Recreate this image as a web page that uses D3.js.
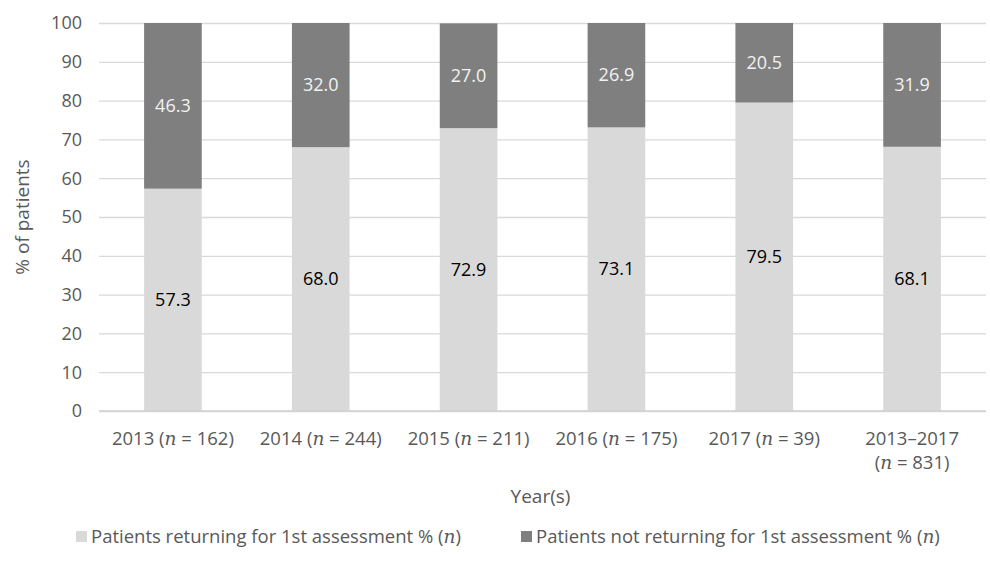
<!DOCTYPE html>
<meta charset="utf-8">
<style>
    body { margin: 0; background: #fff; }
    text { font-family: "Open Sans", "Noto Sans", sans-serif; }
    .grid line { stroke: #d9d9d9; stroke-width: 1.3; }
    .grid .domain { display: none; }
    .nit { font-family: "DejaVu Serif", serif; font-style: italic; }
</style>
<svg width="990" height="574"></svg>
<script src="https://d3js.org/d3.v7.min.js"></script>
<script>

    var years = ["2013", "2014", "2015", "2016", "2017", "2013–2017"];
    var nValues = ["162", "244", "211", "175", "39", "831"];
    var returning = [57.3, 68.0, 72.9, 73.1, 79.5, 68.1];
    var notReturning = [46.3, 32.0, 27.0, 26.9, 20.5, 31.9];
    var yTicks = [0, 10, 20, 30, 40, 50, 60, 70, 80, 90, 100];
    var legendLabels = ["Patients returning for 1st assessment % (", "Patients not returning for 1st assessment % ("];
    var colors = ["#d9d9d9", "#7f7f7f"];

    var svg = d3.select("svg"),
        margin = {top: 23, right: 4, bottom: 163, left: 99},
        width = +svg.attr("width") - margin.left - margin.right,
        height = +svg.attr("height") - margin.top - margin.bottom,
        g = svg.append("g").attr("transform", "translate(" + margin.left + "," + margin.top + ")");

    var x = d3.scaleBand()
        .domain(years)
        .range([0, width])
        .paddingInner(0.61)
        .paddingOuter(0.305);

    var y = d3.scaleLinear()
        .domain([0, 100])
        .range([height, 0]);

    // gridlines
    g.append("g")
        .attr("class", "grid")
        .call(d3.axisLeft(y).tickValues(yTicks).tickSize(-width).tickFormat(""));

    // tick labels
    g.append("g")
        .selectAll("text")
        .data(yTicks)
        .enter().append("text")
        .attr("x", -17)
        .attr("y", function (d) { return y(d); })
        .attr("dy", "0.35em")
        .attr("text-anchor", "end")
        .style("fill", "#595959")
        .style("font-size", "18px")
        .text(function (d) { return d; });

    // light bars
    g.selectAll(".bar-light")
        .data(years)
        .enter().append("rect")
        .attr("class", "bar-light")
        .attr("x", function (d) { return x(d); })
        .attr("width", x.bandwidth())
        .attr("y", function (d, i) { return y(returning[i]); })
        .attr("height", function (d, i) { return height - y(returning[i]); })
        .attr("fill", colors[0]);

    // dark bars (stacked on top, capped at axis max)
    g.selectAll(".bar-dark")
        .data(years)
        .enter().append("rect")
        .attr("class", "bar-dark")
        .attr("x", function (d) { return x(d); })
        .attr("width", x.bandwidth())
        .attr("y", function (d, i) { return y(Math.min(100, returning[i] + notReturning[i])); })
        .attr("height", function (d, i) {
            return y(returning[i]) - y(Math.min(100, returning[i] + notReturning[i]));
        })
        .attr("fill", colors[1]);

    // bottom axis line
    g.append("line")
        .attr("x1", 0).attr("x2", width)
        .attr("y1", height).attr("y2", height)
        .attr("stroke", "#d0d0d0")
        .attr("stroke-width", 1.5);

    // value labels
    g.selectAll(".lbl-light")
        .data(years)
        .enter().append("text")
        .attr("x", function (d) { return x(d) + x.bandwidth() / 2; })
        .attr("y", function (d, i) { return y(returning[i] / 2); })
        .attr("dy", "0.35em")
        .attr("text-anchor", "middle")
        .style("font-size", "18px")
        .style("fill", "#000")
        .text(function (d, i) { return returning[i].toFixed(1); });

    g.selectAll(".lbl-dark")
        .data(years)
        .enter().append("text")
        .attr("x", function (d) { return x(d) + x.bandwidth() / 2; })
        .attr("y", function (d, i) {
            var top = Math.min(100, returning[i] + notReturning[i]);
            return y((returning[i] + top) / 2);
        })
        .attr("dy", "0.35em")
        .attr("text-anchor", "middle")
        .style("font-size", "18px")
        .style("fill", "#f2f2f2")
        .text(function (d, i) { return notReturning[i].toFixed(1); });

    // category labels
    var cat = g.selectAll(".cat")
        .data(years)
        .enter().append("text")
        .attr("class", "cat")
        .attr("x", function (d) { return x(d) + x.bandwidth() / 2; })
        .attr("y", height + 34)
        .attr("text-anchor", "middle")
        .style("font-size", "18.5px")
        .style("fill", "#595959");

    cat.each(function (d, i) {
        var t = d3.select(this);
        var cx = x(d) + x.bandwidth() / 2;
        if (d.length > 4) {
            t.append("tspan").attr("x", cx).text(d);
            var t2 = t.append("tspan").attr("x", cx).attr("dy", "1.3em");
            t2.append("tspan").text("(");
            t2.append("tspan").attr("class", "nit").text("n");
            t2.append("tspan").text(" = " + nValues[i] + ")");
        } else {
            t.append("tspan").text(d + " (");
            t.append("tspan").attr("class", "nit").text("n");
            t.append("tspan").text(" = " + nValues[i] + ")");
        }
    });

    // axis titles
    g.append("text")
        .attr("transform", "rotate(-90)")
        .attr("x", -height / 2)
        .attr("y", -70)
        .attr("text-anchor", "middle")
        .style("font-size", "19px")
        .style("fill", "#595959")
        .text("% of patients");

    g.append("text")
        .attr("x", width / 2 - 2)
        .attr("y", height + 92)
        .attr("text-anchor", "middle")
        .style("font-size", "19px")
        .style("fill", "#595959")
        .text("Year(s)");

    // legend
    var legendX = [76, 521];
    var legend = svg.selectAll(".legend")
        .data(legendLabels)
        .enter().append("g")
        .attr("class", "legend")
        .attr("transform", function (d, i) { return "translate(" + legendX[i] + ",537)"; });

    legend.append("rect")
        .attr("x", 0)
        .attr("y", -6)
        .attr("width", 11)
        .attr("height", 11)
        .attr("fill", function (d, i) { return colors[i]; });

    var lt = legend.append("text")
        .attr("x", 15)
        .attr("dy", "0.35em")
        .style("font-size", "18.5px")
        .style("fill", "#595959");
    lt.append("tspan").text(function (d) { return d; });
    lt.append("tspan").attr("class", "nit").text("n");
    lt.append("tspan").text(")");

</script>
